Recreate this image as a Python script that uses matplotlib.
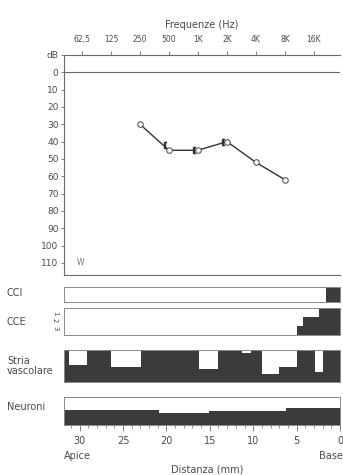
import numpy as np
import matplotlib
matplotlib.use("Agg")
import matplotlib.pyplot as plt

# ── Data ──────────────────────────────────────────────────────────────
freq_labels = ["62,5", "125", "250", "500", "1K", "2K", "4K", "8K", "16K"]
freq_ticks  = [62.5, 125, 250, 500, 1000, 2000, 4000, 8000, 16000]
db_ticks    = [-10, 0, 10, 20, 30, 40, 50, 60, 70, 80, 90, 100, 110]

air_freq = [250, 500, 1000, 2000, 4000, 8000]
air_db   = [30, 45, 45, 40, 52, 62]
bone_freq = [500, 1000, 2000]
bone_db   = [42, 45, 40]

# lower panels: step edges in mm (apex -> base) and dark fraction per step
cci_edges = [31.8, 1.6, 0]
cci_vals  = [0, 1]
cce_edges = [31.8, 4.9, 4.3, 2.4, 0]
cce_vals  = [0, 1/3, 2/3, 1]
stria_edges = [31.8, 31.2, 29.1, 26.4, 22.9, 16.3, 14.0, 11.3, 10.2,
               9.0, 7.0, 5.0, 2.9, 2.0, 0]
stria_vals  = [1, 0.53, 1, 0.47, 1, 0.4, 1, 0.9, 1, 0.25, 0.47, 1, 0.31, 1]
neur_edges = [31.8, 20.9, 15.1, 6.2, 0]
neur_vals  = [0.54, 0.43, 0.5, 0.6]
dist_ticks = [30, 25, 20, 15, 10, 5, 0]

W, H = 343, 475
TXT = "#4a4a4a"
LINE = "#6a6a6a"
DARK = "#3b3b3b"
FS = 7

plt.rcParams["font.family"] = ["DejaVu Sans"]
fig = plt.figure(figsize=(W / 100, H / 100), dpi=100)


def px_axes(x0, y0, x1, y1):
    return fig.add_axes([x0 / W, 1 - y1 / H, (x1 - x0) / W, (y1 - y0) / H])


# ── Audiogram ─────────────────────────────────────────────────────────
ax = px_axes(64, 55, 340, 275)
ax.set_xscale("log", base=2)
ax.set_xlim(62.5 * 2 ** -0.62, 16000 * 2 ** 0.9)
ax.set_ylim(117, -10)
ax.spines["right"].set_visible(False)
for s in ["top", "left", "bottom"]:
    ax.spines[s].set_color(LINE)
    ax.spines[s].set_linewidth(0.8)
ax.axhline(0, color=LINE, lw=0.8)

ax.xaxis.tick_top()
ax.set_xticks(freq_ticks)
ax.set_xticklabels(freq_labels)
ax.minorticks_off()
ax.tick_params(axis="x", direction="out", length=3, width=0.6, colors=LINE,
               labelcolor=TXT, labelsize=5.5, pad=5)
ax.set_yticks(db_ticks)
ax.set_yticklabels(["dB"] + [str(v) for v in db_ticks[1:]])
ax.tick_params(axis="y", direction="out", length=2, width=0.6, colors=LINE,
               labelcolor=TXT, labelsize=FS - 0.5, pad=2)
ax.set_xlabel("Frequenze (Hz)", fontsize=FS, color=TXT, labelpad=5)
ax.xaxis.set_label_position("top")

ax.plot(air_freq, air_db, color="#333333", lw=1.0, marker="o", ms=4,
        mfc="white", mec="#444444", mew=0.7, zorder=3)
ax.plot(np.array(bone_freq) * 2 ** -0.12, bone_db, ls="none", marker="$[$",
        ms=5, color="#333333", zorder=4)
ax.text(0.058, 0.055, "W", transform=ax.transAxes, fontsize=5.5,
        color="#777777", ha="center", va="center")


# ── Lower panels ──────────────────────────────────────────────────────
def panel(y0, y1, edges, vals, label, label_y=None):
    a = px_axes(64, y0, 340, y1)
    a.set_xlim(31.8, 0)
    a.set_ylim(0, 1)
    xs = np.array(edges)
    ys = np.append(vals, vals[-1])
    a.fill_between(xs, 0, ys, step="post", color=DARK, lw=0)
    a.set_xticks([])
    a.set_yticks([])
    for s in a.spines.values():
        s.set_color("#8a8a8a")
        s.set_linewidth(0.7)
    if label_y is None:
        label_y = (y0 + y1) / 2
    fig.text(7 / W, 1 - label_y / H, label, fontsize=FS, color=TXT,
             ha="left", va="center", linespacing=1.05)
    return a


panel(287, 302, cci_edges, cci_vals, "CCI", 293)
panel(308, 335, cce_edges, cce_vals, "CCE", 322)
for i, lab in enumerate(["1", "2", "3"]):
    fig.text(55 / W, 1 - (313 + 7.5 * i) / H, lab, fontsize=5, color=TXT,
             rotation=-90, ha="center", va="center")
panel(350, 382, stria_edges, stria_vals, "Stria\nvascolare", 366)
neur = panel(397, 425, neur_edges, neur_vals, "Neuroni", 407)

neur.set_xticks(dist_ticks)
neur.set_xticks(np.arange(0, 32, 1), minor=True)
neur.tick_params(axis="x", which="major", direction="out", length=4, width=0.6,
                 colors=LINE, labelcolor=TXT, labelsize=FS, pad=4)
neur.tick_params(axis="x", which="minor", direction="out", length=2.5,
                 width=0.5, colors=LINE)

fig.text(77 / W, 1 - 456 / H, "Apice", fontsize=FS, color=TXT,
         ha="center", va="center")
fig.text(343 / W, 1 - 456 / H, "Base", fontsize=FS, color=TXT,
         ha="right", va="center")
fig.text(207 / W, 1 - 470 / H, "Distanza (mm)", fontsize=FS, color=TXT,
         ha="center", va="center")

fig.savefig("out.png", dpi=100, facecolor="white")
